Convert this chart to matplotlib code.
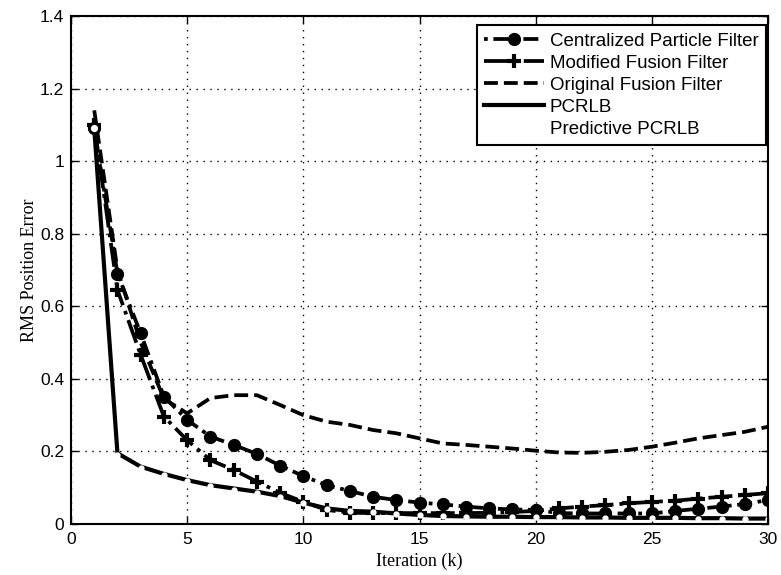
import matplotlib
matplotlib.use("Agg")
import matplotlib.pyplot as plt
import numpy as np

k = list(range(1, 31))
centralized = [1.09, 0.69, 0.525, 0.351, 0.287, 0.241, 0.218, 0.193, 0.161, 0.132,
               0.107, 0.091, 0.075, 0.066, 0.059, 0.054, 0.048, 0.043, 0.040, 0.039,
               0.030, 0.029, 0.029, 0.029, 0.029, 0.036, 0.042, 0.048, 0.055, 0.066]
modified = [1.10, 0.645, 0.466, 0.296, 0.231, 0.176, 0.149, 0.117, 0.086, 0.061,
            0.039, 0.031, 0.030, 0.030, 0.030, 0.030, 0.030, 0.031, 0.033, 0.036,
            0.043, 0.048, 0.052, 0.057, 0.061, 0.064, 0.070, 0.075, 0.080, 0.085]
original = [1.14, 0.70, 0.50, 0.345, 0.305, 0.347, 0.355, 0.355, 0.328, 0.300,
            0.282, 0.273, 0.259, 0.250, 0.236, 0.222, 0.218, 0.213, 0.208, 0.202,
            0.197, 0.196, 0.199, 0.204, 0.213, 0.224, 0.236, 0.245, 0.254, 0.268]
pcrlb = [1.09, 0.195, 0.158, 0.138, 0.121, 0.107, 0.098, 0.089, 0.077, 0.059,
         0.043, 0.036, 0.034, 0.029, 0.025, 0.022, 0.021, 0.020, 0.020, 0.019,
         0.019, 0.018, 0.018, 0.017, 0.017, 0.017, 0.016, 0.016, 0.015, 0.015]
predictive = [1.09, 0.19, 0.155, 0.135, 0.118, 0.104, 0.095, 0.086, 0.074, 0.057,
              0.042, 0.035, 0.033, 0.028, 0.024, 0.021, 0.020, 0.019, 0.019, 0.018,
              0.018, 0.017, 0.017, 0.016, 0.016, 0.016, 0.015, 0.015, 0.014, 0.014]

xticks = [0, 5, 10, 15, 20, 25, 30]
yticks = [0, 0.2, 0.4, 0.6, 0.8, 1.0, 1.2, 1.4]
ytick_labels = ["0", "0.2", "0.4", "0.6", "0.8", "1", "1.2", "1.4"]

fig = plt.figure(figsize=(7.81, 5.75), dpi=100)
ax = fig.add_axes([0.0909, 0.0887, 0.8925, 0.8835])

lw = 2.7
ax.plot(k, centralized, color="black", linestyle=(0, (1, 1.5, 4, 1.5)), linewidth=lw,
        marker="o", markersize=8.5, label="Centralized Particle Filter")
ax.plot(k, modified, color="black", linestyle="-.", linewidth=lw,
        marker="+", markersize=10, markeredgewidth=3.0, label="Modified Fusion Filter")
ax.plot(k, original, color="black", linestyle="--", linewidth=lw,
        label="Original Fusion Filter")
ax.plot(k, pcrlb, color="black", linestyle="-", linewidth=3.0, label="PCRLB")
ax.plot(k, predictive, color="white", linestyle="-", linewidth=0.0,
        marker="o", markersize=3.5, markerfacecolor="white", markeredgecolor="white",
        label="Predictive PCRLB")
ax.plot([1], [predictive[0]], linestyle="none", marker="o", markersize=7,
        markerfacecolor="white", markeredgecolor="black", markeredgewidth=1.8)

ax.set_xlim(0, 30)
ax.set_ylim(0, 1.4)
ax.set_xticks(xticks)
ax.set_yticks(yticks)
ax.set_yticklabels(ytick_labels)
ax.grid(True, color="black", linestyle=(0, (1, 4)), linewidth=1.0)
ax.tick_params(direction="in", length=5, width=1, labelsize=12.5, top=True, right=True)
ax.tick_params(axis="x", pad=6)
ax.tick_params(axis="y", pad=5)
for lab in ax.get_xticklabels() + ax.get_yticklabels():
    lab.set_fontfamily("Liberation Sans")
for s in ax.spines.values():
    s.set_linewidth(1.5)

ax.set_xlabel("Iteration (k)", fontfamily="Liberation Serif", fontsize=13, labelpad=4)
ax.set_ylabel("RMS Position Error", fontfamily="Liberation Serif", fontsize=13, labelpad=1)

leg = ax.legend(loc="upper right", bbox_to_anchor=(0.997, 0.982),
                prop={"family": "Liberation Sans", "size": 13.5},
                frameon=True, fancybox=False, edgecolor="black", framealpha=1,
                borderpad=0.4, labelspacing=0.26, handlelength=3.2, handletextpad=0.28,
                borderaxespad=0.0)
leg.get_frame().set_linewidth(1.5)

fig.savefig("out.png", dpi=100)
